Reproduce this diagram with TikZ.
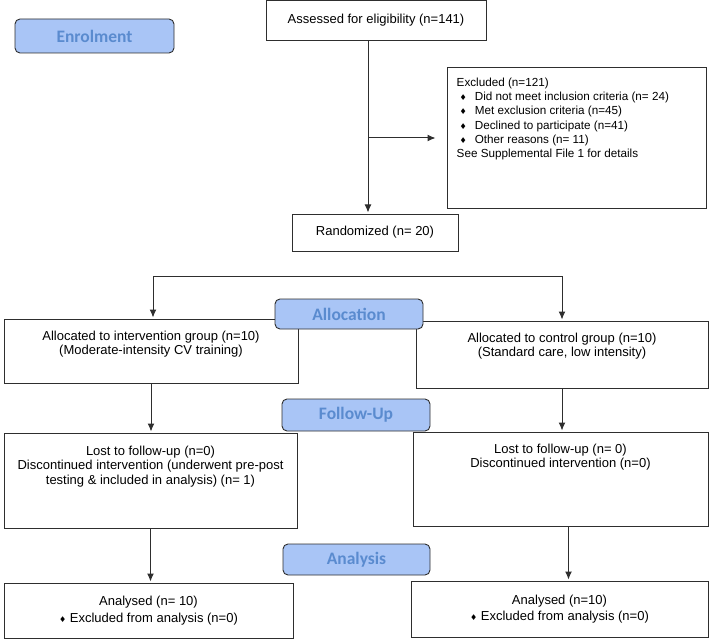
\documentclass[tikz,border=0pt]{standalone}
\usepackage{fontspec}
\setmainfont{Liberation Sans}
\newfontfamily\labelfont{Carlito}
\newfontfamily\symbolfont{DejaVu Sans}
\usetikzlibrary{arrows.meta}
\definecolor{labelfill}{HTML}{A9C5F6}
\definecolor{labeltext}{HTML}{5A8BCF}
\definecolor{edge}{HTML}{2E2E2E}
\newcommand{\dia}{{\symbolfont\fontsize{8}{8}\selectfont\char"2666}}
\begin{document}
\begin{tikzpicture}[x=1pt,y=-1pt]
	% size of the phase labels
	\def\wlab{148pt}
	\def\hlab{31pt}
	% node style definition
	\tikzstyle{box} = [draw=edge, line width=1pt, rectangle, inner sep=0pt, font=\fontsize{13}{14.5}\selectfont];
	\tikzstyle{phase} = [draw=edge, fill=labelfill, rounded corners=5pt, line width=0.9pt, minimum width=\wlab, minimum height=\hlab, text=labeltext, font=\labelfont\bfseries\fontsize{17.5}{18}\selectfont];
	\tikzstyle{inside} = [anchor=north, inner sep=0pt, align=center, font=\fontsize{13}{14.5}\selectfont];
	\tikzstyle{arr} = [-{Latex[length=8pt,width=7pt]}, line width=1pt, draw=edge, shorten >=1pt];
	\useasboundingbox (0,0) rectangle (709,639);
	% enrolment
	\node[box, minimum width=220pt, minimum height=40pt] (assess) at (376,20.5) {Assessed for eligibility (n=141)};
	\node[box, minimum width=259pt, minimum height=140pt,
		label={[anchor=north west, inner sep=0pt, align=left, xshift=10pt, yshift=-10pt, font=\fontsize{11.7}{14.3}\selectfont]north west:{Excluded (n=121)\\
		\hspace*{3pt}\dia\hspace{8pt}Did not meet inclusion criteria (n= 24)\\
		\hspace*{3pt}\dia\hspace{8pt}Met exclusion criteria (n=45)\\
		\hspace*{3pt}\dia\hspace{8pt}Declined to participate (n=41)\\
		\hspace*{3pt}\dia\hspace{8pt}Other reasons (n= 11)\\
		See Supplemental File 1 for details}}] (excl) at (576.5,138) {};
	\node[box, minimum width=166pt, minimum height=37pt] (rand) at (375,232.5) {Randomized (n= 20)};
	% allocation
	\node[box, minimum width=294pt, minimum height=64pt,
		label={[inside, yshift=-12pt]north:{Allocated to intervention group (n=10)\\(Moderate-intensity CV training)}}] (allocL) at (151,351) {};
	\node[box, minimum width=292pt, minimum height=67pt,
		label={[inside, yshift=-12pt]north:{Allocated to control group (n=10)\\(Standard care, low intensity)}}] (allocR) at (562,354.5) {};
	% follow-up
	\node[box, minimum width=293pt, minimum height=95pt,
		label={[inside, yshift=-13pt]north:{Lost to follow-up (n=0)\\Discontinued intervention (underwent pre-post\\testing \& included in analysis) (n= 1)}}] (fuL) at (150.5,480.5) {};
	\node[box, minimum width=295pt, minimum height=94pt,
		label={[inside, yshift=-12pt]north:{Lost to follow-up (n= 0)\\Discontinued intervention (n=0)}}] (fuR) at (560.5,479) {};
	% analysis
	\node[box, minimum width=289pt, minimum height=55pt, align=center] (anL) at (148.5,610.5) {Analysed (n= 10)\\[2pt]\dia\ Excluded from analysis (n=0)};
	\node[box, minimum width=297pt, minimum height=56pt, align=center] (anR) at (559.5,609) {Analysed (n=10)\\[2pt]\dia\ Excluded from analysis (n=0)};
	% phase labels
	\node[phase, minimum width=159pt, minimum height=34pt] (enrol) at (94.5,36) {Enrolment};
	\node[phase, minimum height=30pt] (alloc) at (349,314) {Allocation};
	\node[phase, minimum height=32pt] (follow) at (356,415) {Follow-Up};
	\node[phase, minimum width=147pt] (analysis) at (356.5,559.5) {Analysis};
	% connectors
	\coordinate (trunk) at (368,138);
	\coordinate (splitL) at (153,276);
	\coordinate (splitR) at (562,276);
	\draw[arr] (assess.south -| trunk) -- (rand.north -| trunk);
	\draw[arr, shorten >=11pt] (trunk) -- (excl.west);
	\draw[arr, {Latex[length=8pt,width=7pt]}-{Latex[length=8pt,width=7pt]}, shorten <=1pt] (allocL.north -| splitL) |- (splitR) -- (allocR.north -| splitR);
	\draw[arr] (allocL.south) -- (allocL.south |- fuL.north);
	\draw[arr] (allocR.south) -- (allocR.south |- fuR.north);
	\draw[arr] (fuL.south) -- (fuL.south |- anL.north);
	\draw[arr] ([xshift=8pt]fuR.south) -- ([xshift=8pt]fuR.south |- anR.north);
\end{tikzpicture}
\end{document}
